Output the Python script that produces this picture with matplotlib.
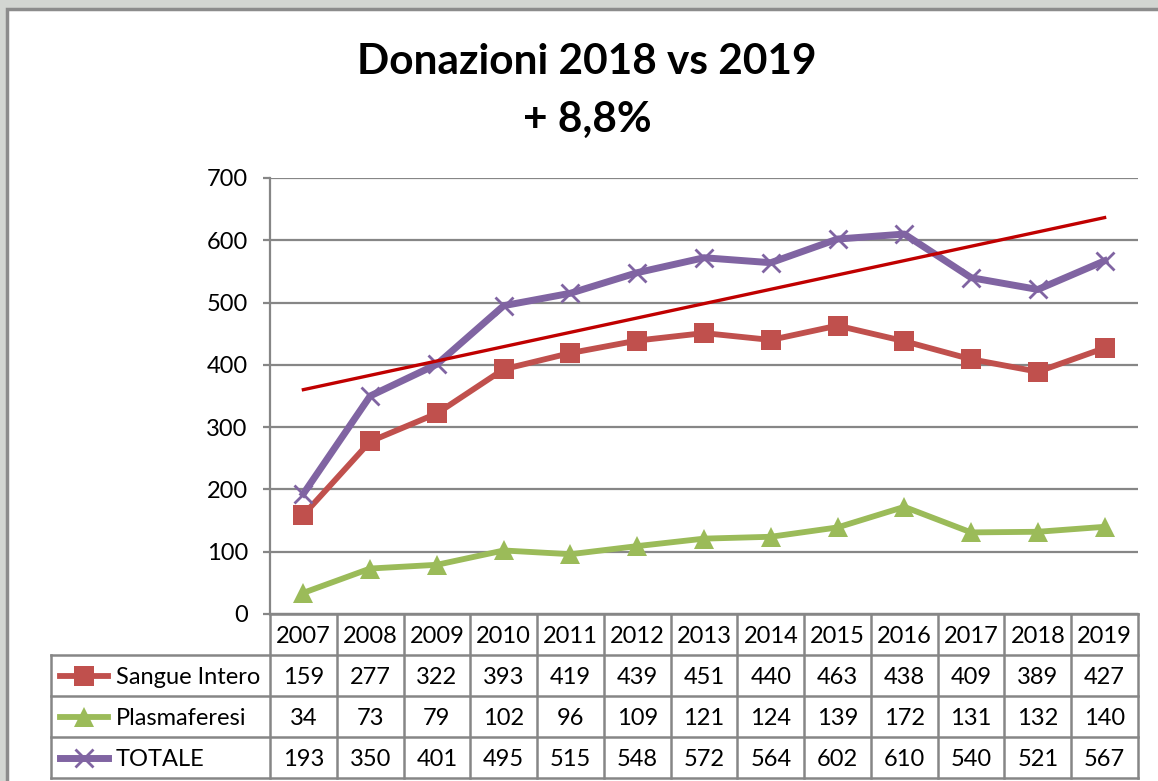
import numpy as np
import matplotlib
matplotlib.use("Agg")
import matplotlib.pyplot as plt
from matplotlib.patches import Rectangle

years = ["2007", "2008", "2009", "2010", "2011", "2012", "2013",
         "2014", "2015", "2016", "2017", "2018", "2019"]
sangue_intero = [159, 277, 322, 393, 419, 439, 451, 440, 463, 438, 409, 389, 427]
plasmaferesi = [34, 73, 79, 102, 96, 109, 121, 124, 139, 172, 131, 132, 140]
totale = [193, 350, 401, 495, 515, 548, 572, 564, 602, 610, 540, 521, 567]
series_names = ["Sangue Intero", "Plasmaferesi", "TOTALE"]
title = "Donazioni 2018 vs 2019\n+ 8,8%"

plt.rcParams['font.family'] = ['Lato', 'DejaVu Sans']

W, H = 1158, 781
fig = plt.figure(figsize=(W / 100, H / 100), dpi=100)
fig.patch.set_facecolor('#d3d6d2')
fig.patches.append(Rectangle((7 / W, -0.1), 1.2, 1 - 9 / H + 0.1,
                             transform=fig.transFigure, facecolor='white',
                             edgecolor='#8c8c8c', linewidth=2.5, zorder=-10))

fig.text(587 / W, 1 - 91 / H, title, ha='center', va='center',
         fontsize=30.5, fontweight='bold', linespacing=1.65)

red = '#C0504D'
green = '#9BBB59'
purple = '#8064A2'
trend = '#C00000'
grid = '#868686'
fs = 17

x = np.arange(len(years))
ax = fig.add_axes([270 / W, 1 - 614 / H, 868 / W, 436 / H])
ax.set_xlim(-0.5, len(years) - 0.5)
ax.set_ylim(0, 700)
ax.set_yticks(np.arange(0, 701, 100))
ax.set_xticks([])
ax.yaxis.grid(True, color=grid, linewidth=1.6)
ax.set_axisbelow(True)
for s in ['top', 'right']:
    ax.spines[s].set_visible(False)
for s in ['left', 'bottom']:
    ax.spines[s].set_color(grid)
    ax.spines[s].set_linewidth(1.6)
ax.tick_params(axis='y', length=5, width=1.6, color=grid, labelsize=fs, pad=11)
ax.patch.set_alpha(0)

styles = [
    (sangue_intero, red, dict(marker='s', markersize=14.5, lw=4.2, mew=0)),
    (plasmaferesi, green, dict(marker='^', markersize=15, lw=4.2, mew=0)),
    (totale, purple, dict(marker='x', markersize=13, lw=5, mew=2)),
]
for vals, col, kw in styles:
    ax.plot(x, vals, color=col, clip_on=False, zorder=3, **kw)

coef = np.polyfit(x, totale, 1)
xt = np.array([x[0], x[-1]])
ax.plot(xt, np.polyval(coef, xt), color=trend, lw=2.4, zorder=4)

# data table
colw = 868 / len(years)
xmin = -0.5 - 219 / colw
tax = fig.add_axes([51 / W, 1 - 778 / H, (1138 - 51) / W, 164 / H])
tax.set_xlim(xmin, len(years) - 0.5)
tax.set_ylim(4, 0)
tax.axis('off')
lk = dict(color=grid, lw=1.8, clip_on=False, solid_capstyle='projecting')
tax.plot([-0.5, len(years) - 0.5], [0, 0], **lk)
for r in range(1, 5):
    tax.plot([xmin, len(years) - 0.5], [r, r], **lk)
for i in range(len(years) + 1):
    tax.plot([-0.5 + i, -0.5 + i], [0, 4], **lk)
tax.plot([xmin, xmin], [1, 4], **lk)

for i, yr in enumerate(years):
    tax.text(i, 0.55, yr, ha='center', va='center', fontsize=fs)
for r, (vals, col, kw) in enumerate(styles):
    for i, v in enumerate(vals):
        tax.text(i, r + 1.55, str(v), ha='center', va='center', fontsize=fs)
    yy = r + 1.5
    tax.plot([xmin + 9 / colw, xmin + 57 / colw], [yy, yy], color=col,
             lw=kw['lw'], clip_on=False)
    tax.plot([xmin + 33 / colw], [yy], color=col, marker=kw['marker'],
             markersize=kw['markersize'], mew=kw['mew'], lw=0, clip_on=False)
    tax.text(xmin + 65 / colw, yy + 0.05, series_names[r], ha='left',
             va='center', fontsize=fs)

fig.savefig('out.png', dpi=100)
